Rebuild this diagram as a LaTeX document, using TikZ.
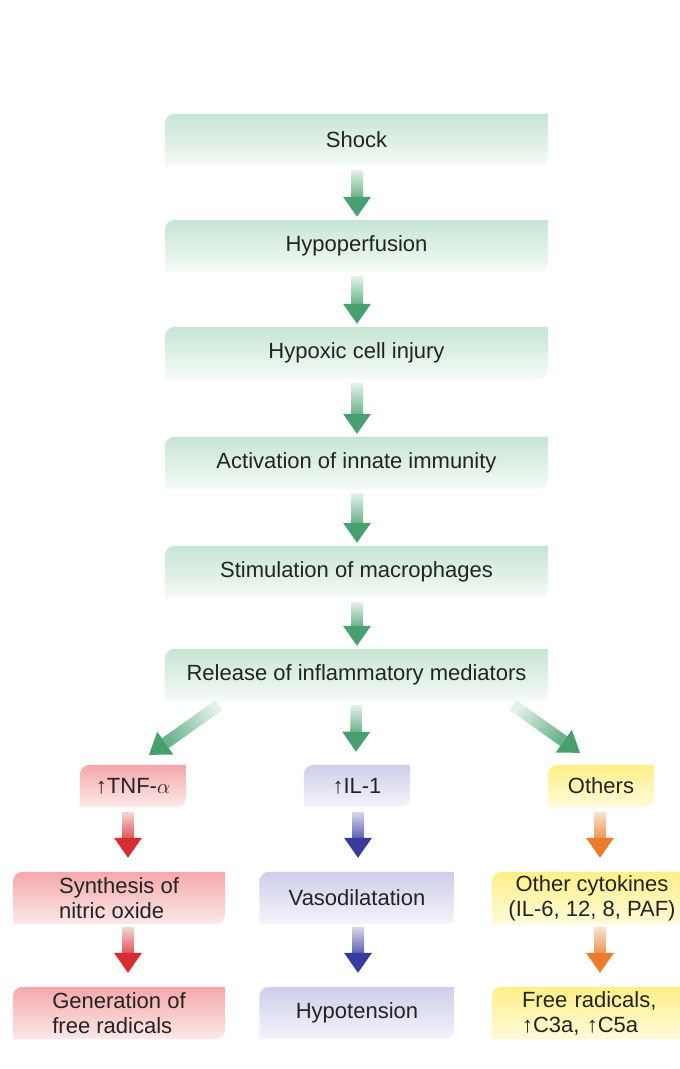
\documentclass[tikz,border=0pt]{standalone}
\usepackage{fontspec}
\setmainfont{Liberation Sans}
\usetikzlibrary{calc,backgrounds}
\definecolor{txtc}{RGB}{35,35,35}
\definecolor{gtop}{RGB}{198,229,210}
\definecolor{gbot}{RGB}{246,251,248}
\definecolor{rtop}{RGB}{244,168,170}
\definecolor{rbot}{RGB}{252,233,233}
\definecolor{btop}{RGB}{206,206,234}
\definecolor{bbot}{RGB}{244,244,251}
\definecolor{ytop}{RGB}{255,239,135}
\definecolor{ybot}{RGB}{255,251,218}
\definecolor{galight}{RGB}{226,242,232}
\definecolor{gadark}{RGB}{72,160,112}
\definecolor{ralight}{RGB}{246,214,214}
\definecolor{radark}{RGB}{214,44,50}
\definecolor{balight}{RGB}{214,214,236}
\definecolor{badark}{RGB}{55,60,155}
\definecolor{oalight}{RGB}{250,226,202}
\definecolor{oadark}{RGB}{234,124,44}
\tikzset{
  x=1pt, y=1pt,
  txt/.style={font=\fontsize{22}{25}\selectfont, text=txtc, inner sep=0pt, align=center},
  gbox/.style={txt, minimum width=383pt, minimum height=52pt},
  sbox/.style={txt, minimum width=106pt, minimum height=42pt},
  mbox/.style={txt, minimum height=52pt},
}
\newcommand\boxbg[3]{%
  \shade[top color=#2, bottom color=#3]
    (#1.south west) -- ($(#1.north west)+(0,-10)$)
    arc[start angle=180, end angle=90, radius=10pt]
    -- (#1.north east) -- ($(#1.south east)+(0,10)$)
    arc[start angle=0, end angle=-90, radius=10pt] -- cycle;}
\newcommand\farrow[5]{%
  \coordinate (fa-h) at ($(#2)!20pt!(#1)$);
  \shade[top color=#3, bottom color=#4!80, shading angle=#5]
    ($(#1)!6pt!90:(#2)$) -- ($(fa-h)!6pt!-90:(#1)$) --
    ($(fa-h)!6pt!90:(#1)$) -- ($(#1)!6pt!-90:(#2)$) -- cycle;
  \fill[#4] ($(fa-h)!14pt!-90:(#1)$) -- (#2) -- ($(fa-h)!14pt!90:(#1)$) -- cycle;}
\begin{document}
\begin{tikzpicture}
\useasboundingbox (0,0) rectangle (680,-1069);
\clip (0,0) rectangle (680,-1069);
% main chain
\node[gbox] (shock) at (356.5,-140) {Shock};
\node[gbox] (hypo)  at (356.5,-246) {Hypoperfusion};
\node[gbox] (hcell) at (356.5,-353) {Hypoxic cell injury};
\node[gbox] (act)   at (356.5,-463) {Activation of innate immunity};
\node[gbox] (stim)  at (356.5,-572) {Stimulation of macrophages};
\node[gbox] (rel)   at (356.5,-675) {Release of inflammatory mediators};
% branches
\node[sbox] (tnf) at (133,-786) {↑TNF-$\alpha$};
\node[sbox] (il)  at (357,-786) {↑IL-1};
\node[sbox] (oth) at (601,-786) {Others};
\node[mbox, minimum width=212pt, align=left] (syn) at (119,-898) {Synthesis of\\nitric oxide};
\node[mbox, minimum width=195pt] (vas) at (357,-898) {Vasodilatation};
\node[mbox, minimum width=200pt] (ocy) at (592,-898) {Other cytokines\\(IL-6, 12, 8, PAF)};
\node[mbox, minimum width=200pt, text width=156pt, align=left] (frr) at (600,-1013) {Free radicals,\\↑C3a, ↑C5a};
\node[mbox, minimum width=212pt, align=left] (gen) at (119,-1013) {Generation of\\free radicals};
\node[mbox, minimum width=195pt] (hyp) at (357,-1013) {Hypotension};
\begin{scope}[on background layer]
  \fill[white] (0,0) rectangle (680,-1069);
  \foreach \n in {shock,hypo,hcell,act,stim,rel}{\boxbg{\n}{gtop}{gbot}}
  \foreach \n in {tnf,syn,gen}{\boxbg{\n}{rtop}{rbot}}
  \foreach \n in {il,vas,hyp}{\boxbg{\n}{btop}{bbot}}
  \foreach \n in {oth,ocy}{\boxbg{\n}{ytop}{ybot}}
  \shade[top color=ytop, bottom color=ybot]
    ($(frr.south west)+(-8,0)$) -- ($(frr.north west)+(-8,-10)$)
    arc[start angle=180, end angle=90, radius=10pt]
    -- (frr.north east) -- (frr.south east) -- cycle;
\end{scope}
% main chain arrows
\foreach \a/\b in {shock/hypo,hypo/hcell,hcell/act,act/stim,stim/rel}{
  \coordinate (s) at ($(\a.south)+(0.5,-4)$);
  \coordinate (e) at ($(\b.north)+(0.5,3)$);
  \farrow{s}{e}{galight}{gadark}{0}
}
% diagonal arrows
\coordinate (d1s) at ($(rel.south west)+(54,-4)$);
\coordinate (d1e) at ($(tnf.north)+(16,10)$);
\farrow{d1s}{d1e}{galight}{gadark}{-54}
\coordinate (d2s) at ($(rel.south)+(0,-4)$);
\coordinate (d2e) at ($(il.north)+(-1,13)$);
\farrow{d2s}{d2e}{galight}{gadark}{0}
\coordinate (d3s) at ($(rel.south east)+(-35,-4)$);
\coordinate (d3e) at ($(oth.north)+(-21,12)$);
\farrow{d3s}{d3e}{galight}{gadark}{53}
% red column
\coordinate (r1s) at ($(tnf.south)+(-5,-5)$);
\coordinate (r1e) at ($(syn.north)+(9,14)$);
\farrow{r1s}{r1e}{ralight}{radark}{0}
\coordinate (r2s) at ($(syn.south)+(9,-3)$);
\coordinate (r2e) at ($(gen.north)+(9,14)$);
\farrow{r2s}{r2e}{ralight}{radark}{0}
% blue column
\coordinate (b1s) at ($(il.south)+(1,-5)$);
\coordinate (b1e) at ($(vas.north)+(1,14)$);
\farrow{b1s}{b1e}{balight}{badark}{0}
\coordinate (b2s) at ($(vas.south)+(1,-3)$);
\coordinate (b2e) at ($(hyp.north)+(1,14)$);
\farrow{b2s}{b2e}{balight}{badark}{0}
% orange column
\coordinate (o1s) at ($(oth.south)+(-1,-5)$);
\coordinate (o1e) at ($(ocy.north)+(8,14)$);
\farrow{o1s}{o1e}{oalight}{oadark}{0}
\coordinate (o2s) at ($(ocy.south)+(8,-3)$);
\coordinate (o2e) at ($(frr.north)+(0,14)$);
\farrow{o2s}{o2e}{oalight}{oadark}{0}
\end{tikzpicture}
\end{document}
